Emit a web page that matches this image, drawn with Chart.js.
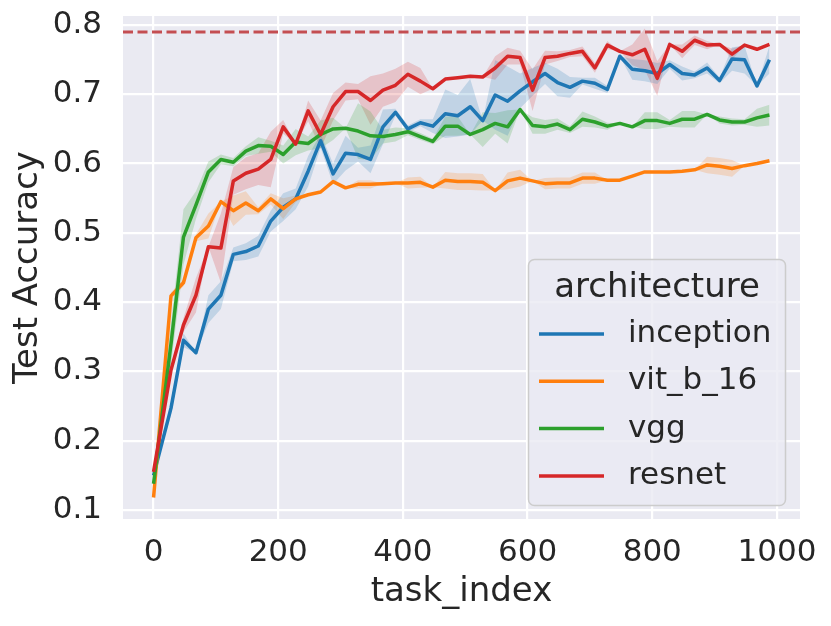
<!DOCTYPE html>
<html>
<head>
<meta charset="utf-8">
<script src="https://cdn.jsdelivr.net/npm/chart.js@4.4.1/dist/chart.umd.min.js"></script>
<style>
  html, body { margin: 0; background: #fff; }
  #wrap { width: 831px; height: 626px; }
</style>
</head>
<body>
<div id="wrap"><canvas id="chart" width="831" height="626"></canvas></div>
<script>
// task_index values where the accuracy was logged
const taskIndex = [0, 28, 48, 68, 88, 108, 128, 148, 168, 188, 208, 228, 248, 268, 288, 308, 328, 348, 368, 388,
  408, 428, 448, 468, 488, 508, 528, 548, 568, 588, 608, 628, 648, 668, 688, 708, 728, 748, 768, 788,
  808, 828, 848, 868, 888, 908, 928, 948, 968, 988];

// mean test accuracy per architecture
const inception = [0.150, 0.247, 0.345, 0.327, 0.390, 0.410, 0.469, 0.473, 0.481, 0.517, 0.537, 0.549, 0.589, 0.633, 0.585, 0.615, 0.613, 0.606, 0.653, 0.674,
  0.650, 0.659, 0.654, 0.672, 0.669, 0.682, 0.662, 0.699, 0.690, 0.705, 0.718, 0.730, 0.717, 0.710, 0.719, 0.716, 0.707, 0.755, 0.736, 0.734,
  0.730, 0.743, 0.730, 0.728, 0.738, 0.720, 0.751, 0.750, 0.712, 0.750];
const vitB16 = [0.118, 0.409, 0.428, 0.493, 0.510, 0.545, 0.532, 0.543, 0.532, 0.549, 0.535, 0.549, 0.555, 0.559, 0.574, 0.565, 0.570, 0.570, 0.571, 0.572,
  0.572, 0.573, 0.566, 0.576, 0.574, 0.574, 0.573, 0.561, 0.575, 0.579, 0.575, 0.571, 0.572, 0.572, 0.579, 0.579, 0.576, 0.576, 0.582, 0.588,
  0.588, 0.588, 0.589, 0.591, 0.598, 0.596, 0.593, 0.597, 0.600, 0.604];
const vgg = [0.138, 0.340, 0.494, 0.540, 0.588, 0.606, 0.602, 0.618, 0.626, 0.625, 0.613, 0.631, 0.629, 0.642, 0.650, 0.651, 0.647, 0.640, 0.639, 0.642,
  0.646, 0.639, 0.632, 0.654, 0.654, 0.642, 0.649, 0.658, 0.653, 0.678, 0.655, 0.653, 0.657, 0.649, 0.664, 0.660, 0.654, 0.658, 0.653, 0.662,
  0.662, 0.658, 0.664, 0.664, 0.671, 0.663, 0.660, 0.660, 0.666, 0.670];
const resnet = [0.155, 0.302, 0.367, 0.410, 0.480, 0.478, 0.575, 0.586, 0.592, 0.606, 0.653, 0.628, 0.676, 0.642, 0.682, 0.704, 0.704, 0.691, 0.706, 0.713,
  0.729, 0.719, 0.708, 0.722, 0.724, 0.726, 0.725, 0.738, 0.755, 0.753, 0.706, 0.753, 0.755, 0.759, 0.762, 0.738, 0.771, 0.762, 0.757, 0.765,
  0.723, 0.772, 0.762, 0.778, 0.771, 0.772, 0.758, 0.771, 0.765, 0.772];

// half width of the confidence band
const inceptionCi = [0, 0.010, 0.010, 0, 0.020, 0.020, 0.010, 0.012, 0.015, 0.015, 0.020, 0.015, 0.022, 0.010, 0.015, 0.025, 0.010, 0.020, 0.025, 0.005,
  0.005, 0.005, 0.010, 0.035, 0.030, 0.040, 0, 0.050, 0.050, 0.025, 0.020, 0.015, 0.020, 0.015, 0.005, 0.008, 0.005, 0, 0.015, 0.015,
  0.015, 0.006, 0.010, 0.005, 0.008, 0.004, 0.017, 0.020, 0, 0.020];
const vitB16Ci = [0, 0.005, 0.005, 0.005, 0.018, 0, 0.022, 0.017, 0.005, 0.008, 0.015, 0.005, 0, 0, 0, 0, 0.006, 0.006, 0, 0,
  0.008, 0.008, 0, 0.012, 0.012, 0.012, 0.012, 0, 0.012, 0.012, 0, 0.008, 0.008, 0.008, 0.008, 0.008, 0, 0, 0, 0,
  0, 0, 0, 0, 0.012, 0.012, 0.012, 0, 0, 0];
const vggCi = [0, 0.030, 0.040, 0.020, 0.015, 0.007, 0.006, 0.007, 0.012, 0.008, 0.013, 0.019, 0.010, 0.020, 0.016, 0, 0.040, 0.035, 0.010, 0.010,
  0.005, 0.005, 0.004, 0.014, 0.014, 0, 0.025, 0.015, 0.024, 0, 0.012, 0.010, 0.008, 0.005, 0.011, 0.008, 0.005, 0, 0, 0.012,
  0.012, 0.005, 0.012, 0.012, 0, 0.005, 0.005, 0.004, 0.013, 0.015];
const resnetCi = [0, 0.005, 0.010, 0.025, 0, 0.050, 0.020, 0.023, 0.023, 0.040, 0.010, 0, 0.015, 0.020, 0.020, 0.013, 0.011, 0.035, 0.024, 0.024,
  0.018, 0.019, 0, 0, 0, 0, 0, 0.017, 0.012, 0.010, 0.030, 0.010, 0.007, 0.005, 0.007, 0.007, 0.006, 0, 0.015, 0.030,
  0.025, 0, 0.010, 0.007, 0.006, 0, 0.008, 0, 0, 0];

const archNames = ["inception", "vit_b_16", "vgg", "resnet"];
const archMeans = [inception, vitB16, vgg, resnet];
const archCis = [inceptionCi, vitB16Ci, vggCi, resnetCi];
const archColors = ["#1f77b4", "#ff7f0e", "#2ca02c", "#d62728"];
const archFills = ["rgba(31,119,180,0.2)", "rgba(255,127,14,0.2)", "rgba(44,160,44,0.2)", "rgba(214,39,40,0.2)"];

const baseline = 0.79;
const xTicks = [0, 200, 400, 600, 800, 1000];
const yTicks = [0.1, 0.2, 0.3, 0.4, 0.5, 0.6, 0.7, 0.8];

const FONT = '"DejaVu Sans", sans-serif';
const INK = "#262626";

function points(ys, ci, sign) {
  return taskIndex.map((x, i) => ({ x: x, y: ys[i] + sign * ci[i] }));
}

const datasets = [];
archNames.forEach((name, k) => {
  datasets.push({
    label: name + " lower", data: points(archMeans[k], archCis[k], -1),
    borderColor: "transparent", borderWidth: 0, pointRadius: 0, fill: false, order: 10
  });
  datasets.push({
    label: name + " upper", data: points(archMeans[k], archCis[k], 1),
    borderColor: "transparent", borderWidth: 0, pointRadius: 0,
    fill: "-1", backgroundColor: archFills[k], order: 10
  });
});
archNames.forEach((name, k) => {
  datasets.push({
    label: name, data: points(archMeans[k], archCis[k], 0),
    borderColor: archColors[k], borderWidth: 3.5, pointRadius: 0,
    borderJoinStyle: "round", fill: false, order: 4 - k
  });
});

const panelBg = {
  id: "panelBg",
  beforeDraw(chart) {
    const { ctx, chartArea: a } = chart;
    ctx.save();
    ctx.fillStyle = "#eaeaf2";
    ctx.fillRect(a.left, a.top, a.right - a.left, a.bottom - a.top);
    ctx.restore();
  }
};

const refLine = {
  id: "refLine",
  afterDatasetsDraw(chart) {
    const { ctx, chartArea: a, scales } = chart;
    const y = scales.y.getPixelForValue(baseline);
    ctx.save();
    ctx.strokeStyle = "#c44e52";
    ctx.lineWidth = 3;
    ctx.setLineDash([10, 4.5]);
    ctx.beginPath();
    ctx.moveTo(a.left, y);
    ctx.lineTo(a.right, y);
    ctx.stroke();
    ctx.restore();
  }
};

const boxLegend = {
  id: "boxLegend",
  afterDraw(chart) {
    const ctx = chart.ctx;
    const bx = 528.5, by = 259.5, bw = 257, bh = 246;
    ctx.save();
    ctx.beginPath();
    ctx.roundRect(bx, by, bw, bh, 6);
    ctx.fillStyle = "rgba(234,234,242,0.8)";
    ctx.fill();
    ctx.strokeStyle = "#cccccc";
    ctx.lineWidth = 1.5;
    ctx.stroke();

    ctx.fillStyle = INK;
    ctx.textBaseline = "middle";
    ctx.textAlign = "center";
    ctx.font = "34px " + FONT;
    ctx.fillText("architecture", bx + bw / 2, 288);

    ctx.textAlign = "left";
    ctx.font = "31px " + FONT;
    archNames.forEach((name, k) => {
      const y = 334 + k * 47.3;
      ctx.strokeStyle = archColors[k];
      ctx.lineWidth = 3.5;
      ctx.beginPath();
      ctx.moveTo(539, y);
      ctx.lineTo(604, y);
      ctx.stroke();
      ctx.fillText(name, 628, y);
    });
    ctx.restore();
  }
};

new Chart(document.getElementById("chart"), {
  type: "line",
  data: { datasets },
  options: {
    responsive: false,
    animation: false,
    events: [],
    layout: { padding: { left: 0, right: 31, top: 16, bottom: 0 } },
    plugins: { legend: { display: false }, tooltip: { enabled: false } },
    scales: {
      x: {
        type: "linear",
        min: -49,
        max: 1037,
        afterBuildTicks: (s) => { s.ticks = xTicks.map(v => ({ value: v })); },
        afterFit: (s) => { s.height = 107; s.paddingLeft = 0; s.paddingRight = 0; },
        grid: { color: "#ffffff", lineWidth: 2.2, drawTicks: false },
        border: { display: false },
        ticks: { color: INK, font: { family: FONT, size: 31 }, padding: 15, maxRotation: 0, callback: (v) => String(v) },
        title: { display: true, text: "task_index", color: INK, font: { family: FONT, size: 34 }, padding: { top: 0, bottom: 13 } }
      },
      y: {
        min: 0.087,
        max: 0.813,
        afterBuildTicks: (s) => { s.ticks = yTicks.map(v => ({ value: v })); },
        afterFit: (s) => { s.width = 123; s.paddingTop = 0; s.paddingBottom = 0; },
        grid: { color: "#ffffff", lineWidth: 2.2, drawTicks: false },
        border: { display: false },
        ticks: { color: INK, font: { family: FONT, size: 31 }, padding: 21, callback: (v) => v.toFixed(1) },
        title: { display: true, text: "Test Accuracy", color: INK, font: { family: FONT, size: 34 }, padding: { top: 8, bottom: 0 } }
      }
    }
  },
  plugins: [panelBg, refLine, boxLegend]
});
</script>
</body>
</html>
